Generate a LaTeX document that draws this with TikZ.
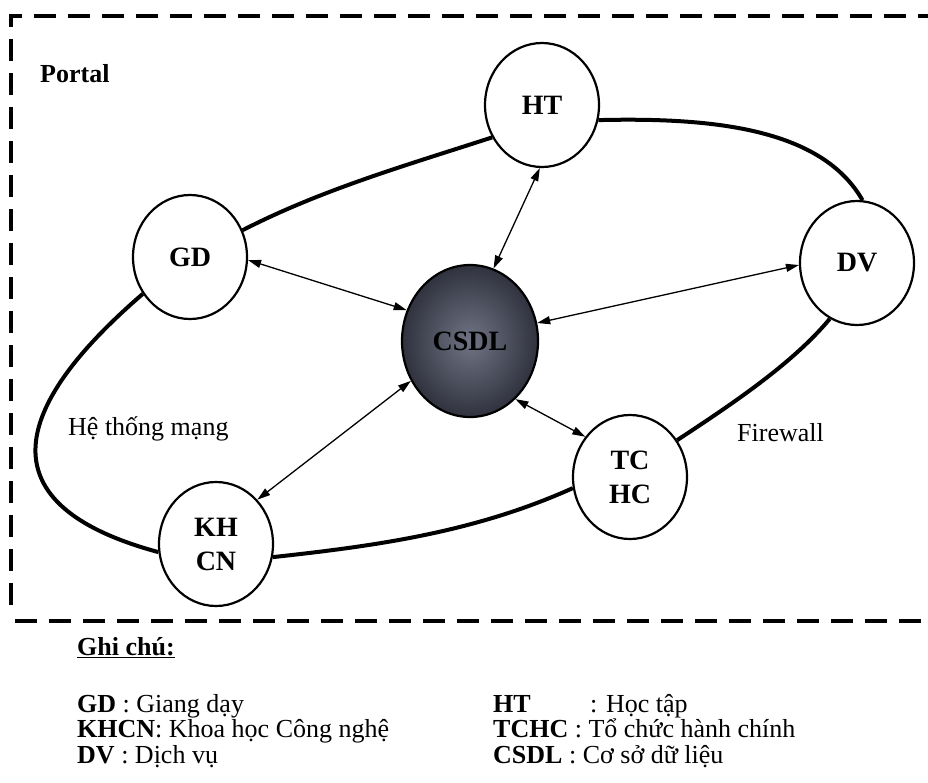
\documentclass[tikz,border=0pt]{standalone}
\usepackage{fontspec}
\setmainfont{Liberation Serif}
\usetikzlibrary{shapes.geometric,arrows.meta}
\definecolor{dbcore}{RGB}{112,116,132}
\definecolor{dbedge}{RGB}{48,50,62}
\begin{document}
\begin{tikzpicture}[x=1pt,y=-1pt,
  unit/.style={ellipse,draw=black,line width=2.2pt,fill=white,minimum width=114pt,minimum height=124pt,inner sep=0pt,
    font=\fontsize{28}{34}\selectfont\bfseries,align=center},
  netloop/.style={line width=4pt},
  link/.style={line width=1.3pt,{Triangle[length=13pt,width=8pt]}-{Triangle[length=13pt,width=8pt]}},
  lbl/.style={font=\fontsize{26}{30}\selectfont,inner sep=0pt,anchor=base west},
  frame/.style={line width=4pt,dash pattern=on 22pt off 12pt},
]
\useasboundingbox (0,0) rectangle (928,782);
\fill[white] (0,0) rectangle (928,782);

% frame
\draw[frame,dash phase=27pt] (11,612) -- (11,16) -- (935,16);
\draw[frame] (15,621) -- (935,621);

% nodes
\node[unit] (HT) at (542,105) {HT};
\node[unit] (GD) at (190,257) {GD};
\node[unit] (DV) at (857,263) {DV};
\node[unit] (TCHC) at (630,477) {TC\\HC};
\node[unit] (KHCN) at (216,544) {KH\\CN};
\node[ellipse,draw=black,line width=2.2pt,minimum width=136pt,minimum height=152pt,inner sep=0pt,
  inner color=dbcore,outer color=dbedge,font=\fontsize{28}{34}\selectfont\bfseries] (CSDL) at (470,341) {CSDL};

% network loop
\draw[netloop] (GD.27) .. controls +(80,-41) and +(-86,28) .. (HT.213);
\draw[netloop] (HT.345) .. controls +(120,-3) and +(-40,-70) .. (DV.85);
\draw[netloop] (DV.244) .. controls +(-38,46) and +(50,-33) .. (TCHC.38);
\draw[netloop] (TCHC.191) .. controls +(-100,45) and +(100,-11) .. (KHCN.347);
\draw[netloop] (KHCN.188) .. controls +(-163,-44) and +(-144,124) .. (GD.218);

% links to database
\draw[link] (HT.268) -- (CSDL.72);
\draw[link] (GD.357) -- (CSDL.154);
\draw[link] (DV.182) -- (CSDL.15);
\draw[link] (TCHC.138) -- (CSDL.308);
\draw[link] (KHCN.47) -- (CSDL.214);

% labels
\node[lbl,font=\fontsize{26}{30}\selectfont\bfseries] (portal) at (40,82) {Portal};
\node[lbl] (mang) at (68,435) {Hệ thống mạng};
\node[lbl] (fw) at (737,441) {Firewall};

% legend
\node[lbl,font=\fontsize{26}{30}\selectfont\bfseries] (note) at (77,655) {\underline{Ghi chú:}};
\node[lbl] (lgd) at (77,712) {\textbf{GD} : Giang dạy};
\node[lbl] (lkh) at (77,737.5) {\textbf{KHCN}: Khoa học Công nghệ};
\node[lbl] (ldv) at (77,763) {\textbf{DV} : Dịch vụ};
\node[lbl] (lht) at (493,712) {\makebox[97pt][l]{\textbf{HT}}: Học tập};
\node[lbl] (ltc) at (493,737.5) {\textbf{TCHC} : Tổ chức hành chính};
\node[lbl] (lcs) at (493,763) {\textbf{CSDL} : Cơ sở dữ liệu};
\end{tikzpicture}
\end{document}
